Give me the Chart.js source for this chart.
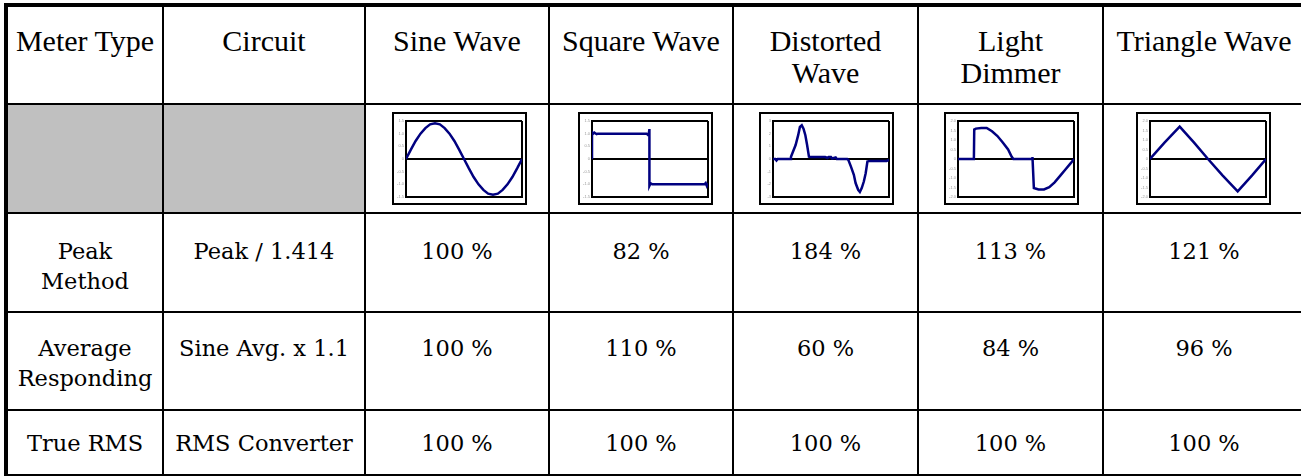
<!DOCTYPE html>
<html>
<head>
<meta charset="utf-8">
<script src="https://cdn.jsdelivr.net/npm/chart.js@4/dist/chart.umd.min.js"></script>
<style>
  html, body { margin: 0; padding: 0; background: #fff; overflow: hidden; width: 1301px; height: 476px; }
  #tbl {
    position: absolute; left: 4px; top: 3px;
    display: grid;
    grid-template-columns: 154px 200px 182px 182px 183px 183px 200px;
    grid-template-rows: 96px 107px 97px 96px 63px;
    gap: 2px;
    padding: 4px;
    background: #000;
  }
  .c { background: #fff; text-align: center; color: #000; box-sizing: border-box; position: relative; }
  .h { font-family: "Liberation Serif", "Times New Roman", serif; font-size: 30px; line-height: 32px; padding-top: 18px; }
  .d { font-family: "DejaVu Serif", serif; font-size: 22.5px; line-height: 30px; }
  .r0 { padding-top: 22px; }
  .r1 { padding-top: 20px; }
  .r2 { padding-top: 17px; }
  .g { background: #c0c0c0; }
  .frame { position: absolute; top: 7px; width: 131px; height: 89px; border: 2px solid #000; background: #fff; }
  .frame canvas { display: block; }
</style>
</head>
<body>
<div id="tbl" role="table"></div>
<script>
// ---- table text ----
const headerCols = [["Meter Type"], ["Circuit"], ["Sine Wave"], ["Square Wave"], ["Distorted", "Wave"], ["Light", "Dimmer"], ["Triangle Wave"]];
const meterTypes = [["Peak", "Method"], ["Average", "Responding"], ["True RMS"]];
const circuits = ["Peak / 1.414", "Sine Avg. x 1.1", "RMS Converter"];
const peakReadings = [100, 82, 184, 113, 121];
const avgReadings = [100, 110, 60, 84, 96];
const rmsReadings = [100, 100, 100, 100, 100];

// ---- waveform thumbnails (x = % of one period) ----
const sineX = [0, 4.2, 8.3, 12.5, 16.7, 20.8, 25, 29.2, 33.3, 37.5, 41.7, 45.8, 50, 54.2, 58.3, 62.5, 66.7, 70.8, 75, 79.2, 83.3, 87.5, 91.7, 95.8, 100];
const sineY = [0, 0.37, 0.71, 1.0, 1.22, 1.37, 1.41, 1.37, 1.22, 1.0, 0.71, 0.37, 0, -0.37, -0.71, -1.0, -1.22, -1.37, -1.41, -1.37, -1.22, -1.0, -0.71, -0.37, 0];

const squareX = [0, 0, 1, 2, 4, 5, 47, 48, 49, 49.5, 49.5, 50.5, 52, 97, 98, 99, 100];
const squareY = [0, 1.06, 1.0, 1.04, 0.98, 1.0, 1.0, 0.96, 1.02, 1.18, -1.06, -0.96, -1.0, -1.0, -0.95, -1.06, -0.96];

const distX = [0, 2, 3, 4, 15, 15.5, 19.5, 21.7, 23.2, 24.8, 26.3, 27.9, 29.4, 31, 33, 45, 47, 48, 50, 51, 54, 55, 64, 65, 67.2, 69.7, 71.2, 73.4, 74.9, 76.5, 78.3, 79.9, 81.4, 83.6, 98, 100];
const distY = [0, 0, -0.12, 0, 0, 0.18, 1.1, 1.88, 2.53, 2.66, 2.4, 1.88, 1.1, 0.18, 0.15, 0.15, 0.08, 0.15, 0.15, 0.04, 0.12, 0, 0, -0.08, -0.6, -1.25, -1.9, -2.43, -2.6, -2.3, -1.78, -1.12, -0.2, -0.15, -0.15, -0.08];

const dimX = [0, 13.7, 14, 15.4, 20, 24.7, 29.3, 34, 38.6, 43.2, 46.3, 47.8, 64, 64.2, 65.4, 69.4, 74.1, 78.7, 83.3, 88, 92.6, 97.2, 100];
const dimY = [0, 0, 1.55, 1.6, 1.63, 1.63, 1.46, 1.21, 0.87, 0.5, 0.12, 0, 0, 0.1, -1.53, -1.6, -1.6, -1.48, -1.23, -0.89, -0.55, -0.22, 0];

const triX = [0, 12.5, 25.6, 38, 50, 62.5, 75.6, 88, 100];
const triY = [0, 0.86, 1.7, 0.86, 0, -0.86, -1.7, -0.86, 0];

// y-axis ranges [min, max, step] of each thumbnail
const waveRanges = [[-1.5, 1.5, 0.5], [-1.5, 1.5, 0.5], [-3, 3, 1], [-2, 2, 0.5], [-2, 2, 0.5]];
const waves = [[sineX, sineY], [squareX, squareY], [distX, distY], [dimX, dimY], [triX, triY]];
const frameLeft = [26, 28, 25, 25, 32];

// ---- build table ----
const tbl = document.getElementById('tbl');
function cell(cls, lines, role) {
  const d = document.createElement('div');
  d.className = 'c ' + cls;
  d.setAttribute('role', role || 'cell');
  lines.forEach((t, i) => {
    if (i) d.appendChild(document.createElement('br'));
    d.appendChild(document.createTextNode(t));
  });
  tbl.appendChild(d);
  return d;
}
headerCols.forEach(h => cell('h', h, 'columnheader'));
cell('g', []); cell('g', []);
const frames = [];
waves.forEach((w, i) => {
  const c = cell('', []);
  const f = document.createElement('div');
  f.className = 'frame';
  f.style.left = frameLeft[i] + 'px';
  const cv = document.createElement('canvas');
  cv.width = 131; cv.height = 89;
  f.appendChild(cv);
  c.appendChild(f);
  frames.push(cv);
});
const readingRows = [peakReadings, avgReadings, rmsReadings];
readingRows.forEach((row, r) => {
  const rc = 'd r' + r;
  cell(rc, meterTypes[r]);
  cell(rc, [circuits[r]]);
  row.forEach(v => cell(rc, [v + ' %']));
});

// ---- draw thumbnails ----
waves.forEach((w, i) => {
  const [xs, ys] = w;
  const [ymin, ymax, ystep] = waveRanges[i];
  const pts = xs.map((x, k) => ({ x: x, y: ys[k] }));
  new Chart(frames[i], {
    type: 'line',
    data: { datasets: [{ data: pts, borderColor: '#000080', borderWidth: 2.5, pointRadius: 0, tension: 0, fill: false }] },
    options: {
      responsive: false, animation: false, devicePixelRatio: 1,
      layout: { padding: { left: 0, right: 3, top: 7, bottom: 6 } },
      plugins: { legend: { display: false }, tooltip: { enabled: false } },
      scales: {
        x: {
          type: 'linear', min: 0, max: 100,
          ticks: { display: false, stepSize: 100 },
          grid: { color: '#000', lineWidth: 2, drawTicks: false },
          border: { display: true, color: '#000', width: 2 },
          afterFit: s => { s.height = 0; }
        },
        y: {
          min: ymin, max: ymax,
          ticks: { stepSize: ystep, font: { size: 4 }, color: '#999', padding: 1 },
          grid: {
            lineWidth: 2, tickLength: 1, tickColor: '#999',
            color: ctx => (ctx.tick && (ctx.tick.value === 0 || ctx.tick.value === ymin || ctx.tick.value === ymax)) ? '#000' : 'rgba(0,0,0,0)'
          },
          border: { display: true, color: '#000', width: 2 },
          afterFit: s => { s.width = 12; }
        }
      }
    }
  });
});
</script>
</body>
</html>
